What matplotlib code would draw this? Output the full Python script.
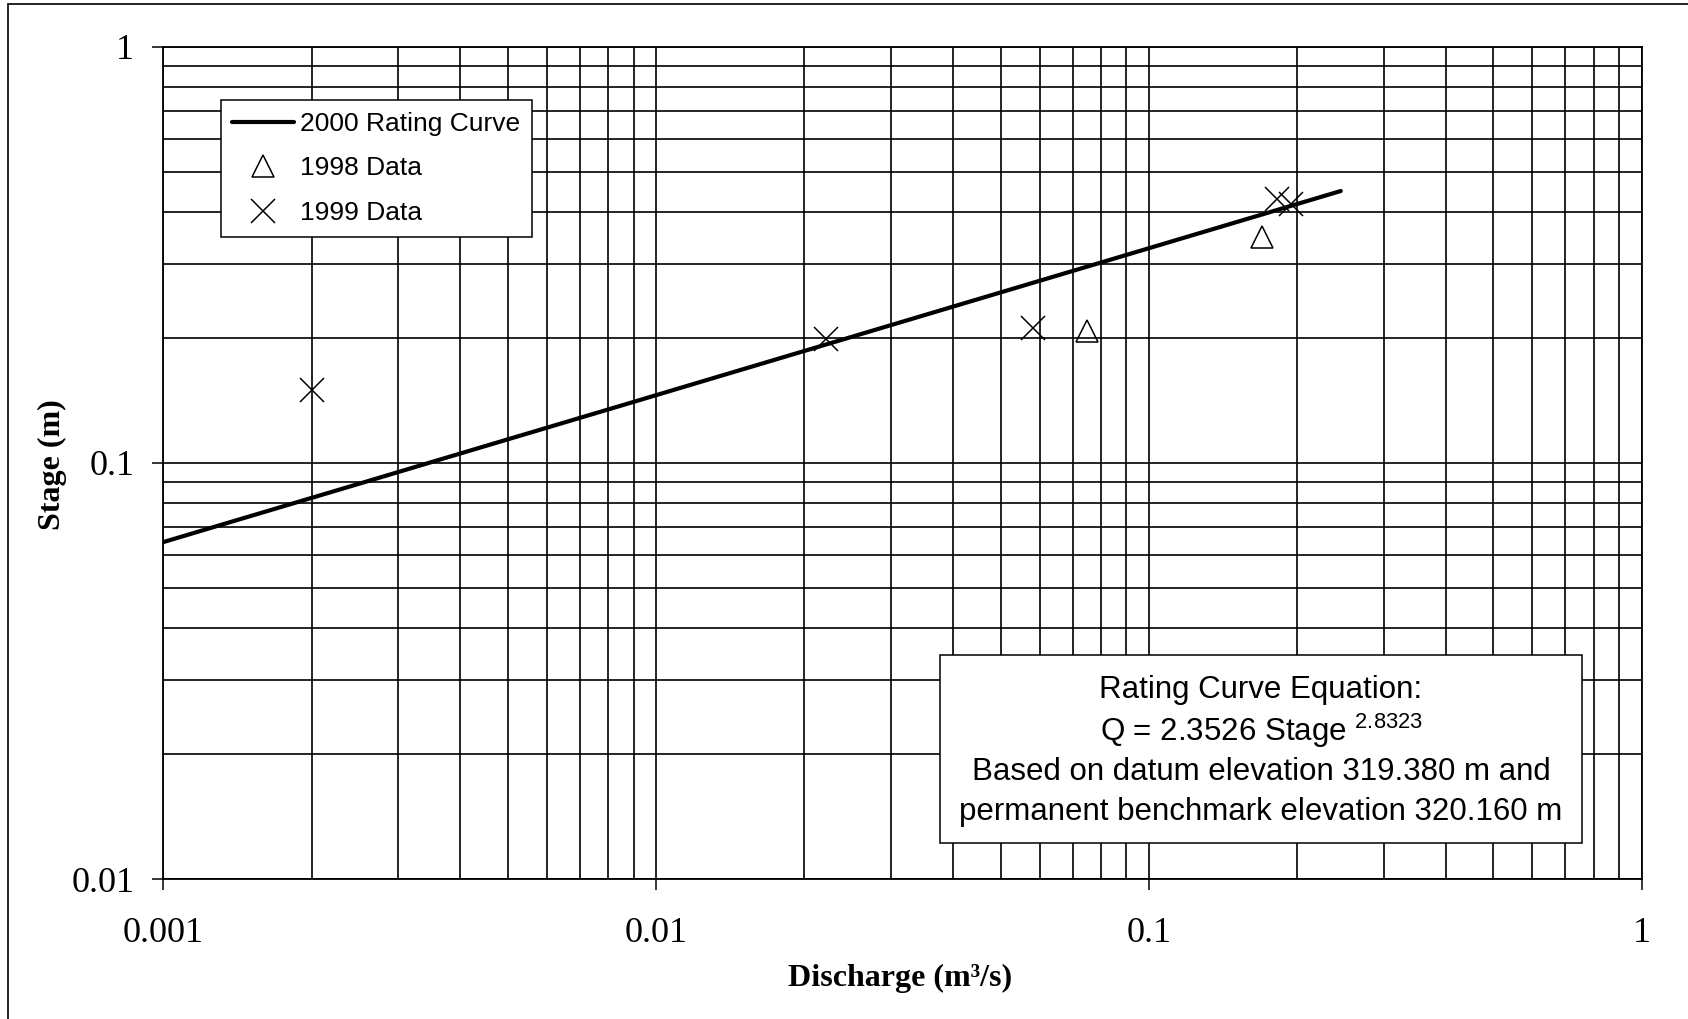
import matplotlib
matplotlib.use("Agg")
import matplotlib.pyplot as plt
from matplotlib.ticker import LogLocator, NullFormatter
from matplotlib.patches import Rectangle

# 2000 rating curve
curve_q = [0.00100, 0.00126, 0.00184, 0.00257, 0.00346, 0.00580, 0.00898,
           0.01310, 0.01829, 0.02466, 0.03229, 0.04637, 0.06393, 0.08530,
           0.11080, 0.14077, 0.17556, 0.21546, 0.24509]
curve_stage = [0.0645, 0.070, 0.080, 0.090, 0.100, 0.120, 0.140,
               0.160, 0.180, 0.200, 0.220, 0.250, 0.280, 0.310,
               0.340, 0.370, 0.400, 0.430, 0.450]

# measured points
q_1998 = [0.0750, 0.1696]
stage_1998 = [0.207, 0.349]
q_1999 = [0.0020, 0.0221, 0.0583, 0.1816, 0.1938]
stage_1999 = [0.150, 0.198, 0.2105, 0.430, 0.419]

xticks = [0.001, 0.01, 0.1, 1]
xtick_labels = ['0.001', '0.01', '0.1', '1']
yticks = [0.01, 0.1, 1]
ytick_labels = ['0.01', '0.1', '1']

box_lines = ['Rating Curve Equation:',
             r'Q = 2.3526 Stage $^{\mathregular{2.8323}}$',
             'Based on datum elevation 319.380 m and',
             'permanent benchmark elevation 320.160 m']

W, H = 1688, 1019
def px(x, y):
    # pixel position (from top-left) -> figure fraction
    return x / W, 1 - y / H

fig = plt.figure(figsize=(W / 100, H / 100), dpi=100)
ax = fig.add_axes([163.3 / W, 1 - 879 / H, (1641.7 - 163.3) / W, (879 - 46.7) / H])

ax.plot(curve_q, curve_stage, color='black', lw=3, solid_capstyle='round',
        label='2000 Rating Curve', zorder=3)
ax.plot(q_1998, stage_1998, ls='none', marker='^', ms=16, mfc='none', mec='black',
        mew=1.1, label='1998 Data', zorder=4)
ax.plot(q_1999, stage_1999, ls='none', marker='x', ms=17, color='black',
        mew=1.1, label='1999 Data', zorder=4)

ax.set_xscale('log')
ax.set_yscale('log')
ax.set_xlim(0.001, 1)
ax.set_ylim(0.01, 1)

serif = 'Liberation Serif'
ax.set_xticks(xticks, labels=xtick_labels)
ax.set_yticks(yticks, labels=ytick_labels)
for axis in (ax.xaxis, ax.yaxis):
    axis.set_minor_locator(LogLocator(base=10, subs=range(2, 10)))
    axis.set_minor_formatter(NullFormatter())
ax.tick_params(which='major', direction='out', length=8, width=1.1, color='black')
ax.tick_params(which='minor', length=0)
ax.tick_params(axis='x', pad=19)
ax.tick_params(axis='y', pad=13)
for lab in ax.get_xticklabels() + ax.get_yticklabels():
    lab.set_fontfamily(serif)
    lab.set_fontsize(26)

ax.set_axisbelow(True)
ax.grid(which='both', color='black', lw=1.2)
for sp in ax.spines.values():
    sp.set_linewidth(1.3)

# axis titles
fig.text(*px(900, 978), 'Discharge (m³/s)', ha='center', va='center',
         fontfamily=serif, fontweight='bold', fontsize=23)
fig.text(*px(52, 465), 'Stage (m)', ha='center', va='center', rotation=90,
         fontfamily=serif, fontweight='bold', fontsize=23)

leg = ax.legend(loc='upper left', bbox_to_anchor=px(220.6, 100), bbox_transform=fig.transFigure,
                borderaxespad=0, prop={'family': 'Liberation Sans', 'size': 19},
                handlelength=2.35, handletextpad=0.22, borderpad=0.45, labelspacing=0.78,
                fancybox=False, framealpha=1, edgecolor='black')
leg.get_frame().set_linewidth(1.1)

# equation box
x0, y0 = px(940, 843)
x1, y1 = px(1582, 655)
fig.add_artist(Rectangle((x0, y0), x1 - x0, y1 - y0, transform=fig.transFigure,
                         facecolor='white', edgecolor='black', lw=1.1, zorder=5))
for txt, yy in zip(box_lines, [690, 731, 772, 812]):
    fig.text(*px(1261, yy), txt, ha='center', va='center', fontfamily='Liberation Sans',
             fontsize=22.5, zorder=6)

# outer border (right and bottom edges fall off the picture)
bx, by = px(8, 1030)
bx2, by2 = px(1700, 4)
fig.add_artist(Rectangle((bx, by), bx2 - bx, by2 - by, transform=fig.transFigure,
                         facecolor='none', edgecolor='black', lw=1.2))

fig.savefig('out.png', dpi=100)
